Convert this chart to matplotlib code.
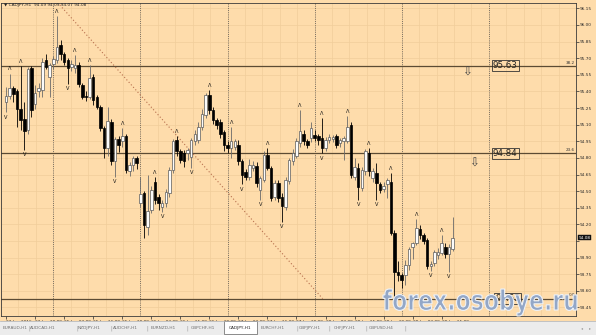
import numpy as np
import matplotlib
matplotlib.use('Agg')
import matplotlib.pyplot as plt
from matplotlib.patches import Rectangle, PathPatch
from matplotlib.textpath import TextPath
from matplotlib.font_manager import FontProperties
from matplotlib.transforms import Affine2D
from matplotlib.lines import Line2D

# ---------------- data (CADJPY H1) ----------------
opens = [95.30, 95.36, 95.43, 95.40, 95.24, 95.15, 95.05, 95.61, 95.29, 95.40,
         95.41, 95.68, 95.53, 95.65, 95.68, 95.82, 95.74, 95.68, 95.62, 95.61,
         95.64, 95.46, 95.36, 95.35, 95.53, 95.35, 95.26, 95.07, 94.89, 95.12,
         94.77, 94.97, 94.95, 95.00, 94.68, 94.74, 94.80, 94.39, 94.48, 94.18,
         94.33, 94.58, 94.45, 94.36, 94.39, 94.48, 94.69, 94.96, 94.86, 94.84,
         94.84, 94.81, 94.95, 94.96, 95.08, 95.19, 95.37, 95.23, 95.14, 95.12,
         95.03, 94.92, 94.89, 94.90, 94.92, 94.77, 94.67, 94.63, 94.71, 94.73,
         94.51, 94.60, 94.83, 94.71, 94.45, 94.57, 94.45, 94.36, 94.59, 94.77,
         94.82, 94.93, 95.02, 94.95, 94.98, 95.01, 95.00, 94.98, 94.89, 94.96,
         94.97, 95.00, 94.93, 94.95, 94.95, 95.10, 94.63, 94.71, 94.53, 94.68,
         94.84, 94.62, 94.66, 94.56, 94.52, 94.56, 94.58, 94.12, 93.77, 93.74,
         93.74, 93.83, 94.00, 94.03, 94.16, 94.10, 94.06, 93.82, 93.85, 93.92,
         93.94, 94.00, 93.93, 93.98]
highs = [95.44, 95.56, 95.45, 95.42, 95.63, 95.30, 95.62, 95.63, 95.46, 95.48,
         95.70, 95.74, 95.66, 95.72, 96.08, 95.86, 95.76, 95.70, 95.68, 95.73,
         95.67, 95.48, 95.40, 95.64, 95.56, 95.37, 95.28, 95.09, 95.26, 95.15,
         94.99, 95.00, 95.07, 95.02, 94.76, 94.82, 94.82, 94.63, 94.50, 94.65,
         94.55, 94.63, 94.47, 94.42, 94.52, 94.72, 94.97, 95.00, 94.88, 94.87,
         94.89, 94.98, 95.05, 95.12, 95.24, 95.39, 95.41, 95.26, 95.16, 95.15,
         95.05, 94.95, 95.08, 94.97, 94.96, 94.79, 94.70, 94.79, 94.77, 94.76,
         94.64, 94.86, 94.89, 94.73, 94.60, 94.60, 94.48, 94.63, 94.80, 94.88,
         94.98, 95.23, 95.05, 94.97, 95.12, 95.05, 95.02, 95.16, 94.99, 95.02,
         95.01, 95.02, 94.98, 95.00, 95.18, 95.12, 94.80, 94.75, 94.72, 94.88,
         94.89, 94.71, 94.75, 94.58, 94.58, 94.62, 94.66, 94.15, 93.87, 93.76,
         93.88, 94.00, 94.04, 94.25, 94.19, 94.12, 94.08, 93.87, 93.97, 93.99,
         94.10, 94.03, 94.02, 94.27]
lows = [95.21, 95.33, 95.30, 95.08, 95.05, 94.87, 95.02, 95.17, 95.24, 95.35,
        95.35, 95.60, 95.35, 95.60, 95.66, 95.68, 95.64, 95.47, 95.58, 95.57,
        95.44, 95.33, 95.31, 95.33, 95.28, 95.24, 95.04, 94.80, 94.82, 94.74,
        94.63, 94.85, 94.90, 94.66, 94.64, 94.68, 94.70, 94.36, 94.08, 94.10,
        94.30, 94.38, 94.33, 94.31, 94.36, 94.45, 94.66, 94.82, 94.75, 94.72,
        94.78, 94.71, 94.92, 94.93, 95.05, 95.16, 95.20, 95.11, 95.06, 94.98,
        94.86, 94.84, 94.80, 94.87, 94.74, 94.56, 94.60, 94.60, 94.68, 94.54,
        94.42, 94.58, 94.69, 94.41, 94.42, 94.40, 94.22, 94.33, 94.56, 94.74,
        94.80, 94.90, 94.92, 94.89, 94.94, 94.95, 94.92, 94.84, 94.86, 94.93,
        94.94, 94.89, 94.90, 94.78, 94.93, 94.62, 94.60, 94.42, 94.50, 94.65,
        94.64, 94.58, 94.42, 94.48, 94.49, 94.44, 94.10, 93.53, 93.69, 93.63,
        93.65, 93.79, 93.89, 94.01, 94.07, 94.02, 93.80, 93.78, 93.82, 93.89,
        93.92, 93.90, 93.77, 93.96]
closes = [95.36, 95.43, 95.38, 95.24, 95.14, 95.04, 95.60, 95.23, 95.39, 95.43,
          95.67, 95.62, 95.64, 95.69, 95.80, 95.74, 95.67, 95.61, 95.65, 95.64,
          95.47, 95.35, 95.35, 95.52, 95.32, 95.26, 95.07, 94.89, 95.13, 94.77,
          94.97, 94.92, 95.00, 94.69, 94.74, 94.80, 94.75, 94.47, 94.19, 94.32,
          94.51, 94.42, 94.39, 94.39, 94.49, 94.69, 94.95, 94.86, 94.78, 94.77,
          94.87, 94.96, 95.02, 95.08, 95.20, 95.37, 95.23, 95.14, 95.10, 95.02,
          94.92, 94.89, 94.95, 94.95, 94.77, 94.65, 94.63, 94.74, 94.74, 94.57,
          94.62, 94.83, 94.71, 94.44, 94.57, 94.44, 94.37, 94.60, 94.78, 94.84,
          94.95, 95.04, 94.95, 94.92, 95.07, 94.98, 94.96, 94.89, 94.96, 94.99,
          94.99, 94.92, 94.96, 94.98, 95.08, 94.65, 94.72, 94.54, 94.69, 94.86,
          94.68, 94.68, 94.57, 94.51, 94.55, 94.60, 94.12, 93.77, 93.74, 93.70,
          93.83, 93.98, 94.03, 94.17, 94.10, 94.05, 93.82, 93.84, 93.95, 93.95,
          94.03, 93.93, 94.00, 94.08]

up_fractals = [1, 4, 14, 19, 23, 32, 41, 47, 56, 62, 72, 81, 87, 94, 100, 106, 113, 120]
down_fractals = [0, 5, 17, 30, 43, 51, 65, 70, 76, 87, 97, 102, 117, 122]

tick_bars = [0, 8, 16, 24, 32, 40, 48, 56, 64, 72, 80, 88, 96, 104, 112, 120]
tick_labels = ["22 Jan 2016", "22 Jan 19:00", "25 Jan 03:00", "25 Jan 11:00",
               "25 Jan 19:00", "26 Jan 03:00", "26 Jan 11:00", "26 Jan 19:00",
               "27 Jan 03:00", "27 Jan 11:00", "27 Jan 19:00", "28 Jan 03:00",
               "28 Jan 11:00", "28 Jan 19:00", "29 Jan 03:00", "29 Jan 11:00"]
day_starts = [13, 37, 61, 85, 109, 133]
price_ticks = [96.15, 96.00, 95.85, 95.70, 95.55, 95.40, 95.25, 95.10, 94.95,
               94.80, 94.65, 94.50, 94.35, 94.20, 94.05, 93.90, 93.75, 93.60, 93.45]
fib_levels = [95.63, 94.84, 93.53]
fib_names = ["38.2", "23.6", "0.0"]
fib_label_bars = [137.5, 137.5, 138.2]
fib_trend_x = [14.8, 87.2]
fib_trend_y = [96.18, 93.53]
arrow_bars = [126.9, 128.8]
arrow_prices = [95.57, 94.75]
last_price = 94.08
header = "\u25bc CADJPY,H1  94.09 94.09 94.07 94.08"
tabs = ["EURAUD,H1", "AUDCAD,H1", "NZDJPY,H1", "AUDCHF,H1", "EURNZD,H1", "GBPCHF,H1",
        "CADJPY,H1", "EURCHF,H1", "GBPJPY,H1", "CHFJPY,H1", "GBPUSD,H4"]
active_tab = "CADJPY,H1"

# ---------------- figure ----------------
W, H = 596, 335
BG = '#fedcab'
GRID = '#f0cd9a'
fig = plt.figure(figsize=(W / 100, H / 100), dpi=100)
fig.patch.set_facecolor(BG)

ax = fig.add_axes([1 / W, 19 / H, 575 / W, 313 / H])
ax.set_facecolor(BG)
px_per_bar = 3.73
x_left = -1.7 / px_per_bar
ax.set_xlim(x_left, x_left + 575 / px_per_bar)
ax.set_ylim(93.373, 96.198)

# grid
grid_x = np.arange(13 - 4.8 * 3, 160, 4.8)
ax.set_xticks(grid_x, minor=True)
ax.grid(which='minor', axis='x', color=GRID, lw=0.5)
ax.set_yticks(price_ticks)
ax.grid(which='major', axis='y', color=GRID, lw=0.5)
ax.set_axisbelow(True)
ax.tick_params(which='minor', length=0)

# day separators
for d in day_starts:
    ax.axvline(d, color='#505050', lw=0.6, ls=(0, (1, 1.6)), zorder=1)

# fib lines
for lv in fib_levels:
    ax.axhline(lv, color='#5c4b33', lw=0.9, zorder=2)
ax.plot(fib_trend_x, fib_trend_y, color='#b8704e', lw=0.8, ls=(0, (1, 2)), zorder=2)

# candles
o = np.array(opens); h = np.array(highs); l = np.array(lows); c = np.array(closes)
idx = np.arange(len(o))
bull = c >= o
wick_col = np.where(bull, '#6a6a6a', '#000000')
ax.vlines(idx, l, h, colors=list(wick_col), lw=0.6, zorder=3)
bottoms = np.minimum(o, c)
heights = np.maximum(np.abs(c - o), 0.006)
ax.bar(idx[bull], heights[bull], bottom=bottoms[bull], width=0.7,
       color='#fbfbfb', edgecolor='#5a5a5a', lw=0.5, zorder=4)
ax.bar(idx[~bull], heights[~bull], bottom=bottoms[~bull], width=0.7,
       color='#000000', edgecolor='#000000', lw=0.5, zorder=4)

# fractals
for i in up_fractals:
    ax.annotate('\u039b', (i, highs[i]), xytext=(0, 3.4), textcoords='offset points',
                ha='center', va='center', fontsize=3.6, color='#111111', zorder=5)
for i in down_fractals:
    ax.annotate('V', (i, lows[i]), xytext=(0, -3.4), textcoords='offset points',
                ha='center', va='center', fontsize=3.6, color='#111111', zorder=5)

# fib labels
ytr = ax.get_yaxis_transform()
for lv, nm, xb in zip(fib_levels, fib_names, fib_label_bars):
    ax.text(0.998, lv + 0.01, nm, transform=ytr, ha='right', va='bottom',
            fontsize=3.0, color='#333333')
    ax.text(xb, lv, f"{lv:.2f}", ha='center', va='center', fontsize=6.3,
            color='#222222', zorder=6,
            bbox=dict(boxstyle='square,pad=0.12', fc='none', ec='#333333', lw=0.6))
for xb, yp in zip(arrow_bars, arrow_prices):
    ax.text(xb, yp, '\u21e9', ha='center', va='center', fontsize=8.5, color='#444444')

# axes styling
for s in ax.spines.values():
    s.set_color('#3a3a3a')
    s.set_linewidth(0.6)
ax.yaxis.tick_right()
ylabels = [f"{p:.2f}" if abs(p - 94.05) > 1e-6 else "" for p in price_ticks]
ax.set_yticklabels(ylabels)
ax.tick_params(axis='y', which='major', labelsize=3.1, length=2, width=0.5,
               pad=1, colors='#2a2a2a')
ax.set_xticks(tick_bars)
ax.set_xticklabels(tick_labels, ha='left')
ax.tick_params(axis='x', which='major', labelsize=3.1, length=2, width=0.5,
               pad=0.8, colors='#2a2a2a')

# current price box
ax.text(1.004, last_price, f"{last_price:.2f}", transform=ytr, ha='left', va='center',
        fontsize=3.1, color='white',
        bbox=dict(boxstyle='square,pad=0.15', fc='#111111', ec='#111111', lw=0.3))

# header
fig.text(4 / W, 1 - 5 / H, header, fontsize=3.1, color='#222222', va='center', ha='left')

# tab bar
fig.add_artist(Rectangle((0, 0), 1, 14 / H, transform=fig.transFigure,
                         fc='#ececec', ec='none', zorder=0.5))
fig.add_artist(Line2D([0, 1], [14 / H, 14 / H], transform=fig.transFigure,
                      color='#b0b0b0', lw=0.5))
tab_centers = [15, 43, 89, 125, 163, 203, 240, 273, 310, 345, 381]
seps = [29, 77, 111, 147, 187, 297, 329, 366, 405]
for name, cx in zip(tabs, tab_centers):
    if name == active_tab:
        fig.add_artist(Rectangle((224 / W, 1 / H), 33 / W, 13 / H, transform=fig.transFigure,
                                 fc='white', ec='#606060', lw=0.5))
    fig.text(cx / W, 7 / H, name, fontsize=3.1, color='#707070' if name != active_tab else '#222222',
             ha='center', va='center')
for sx in seps:
    fig.text(sx / W, 7 / H, '|', fontsize=3.3, color='#8a8a8a', ha='center', va='center')
fig.text(582 / W, 7 / H, '\u25c2', fontsize=3, color='#9a9a9a', ha='center', va='center')
fig.text(590 / W, 7 / H, '\u25b8', fontsize=3, color='#9a9a9a', ha='center', va='center')

# watermark
fp = FontProperties(family='DejaVu Sans', weight='bold')
tp = TextPath((0, 0), 'forex.osobye.ru', size=1, prop=fp)
ext = tp.get_extents()
x0, x1 = 383 / W, 577 / W
y0, y1 = 1 - 316 / H, 1 - 289 / H
tr = (Affine2D().translate(-ext.x0, -ext.y0)
      .scale((x1 - x0) / ext.width, (y1 - y0) / ext.height)
      .translate(x0, y0) + fig.transFigure)
fig.add_artist(PathPatch(tp, transform=tr, fc='#93a7c7', ec='#eef2f7', lw=0.8, zorder=10))

fig.savefig('out.png', dpi=100, facecolor=fig.get_facecolor())
